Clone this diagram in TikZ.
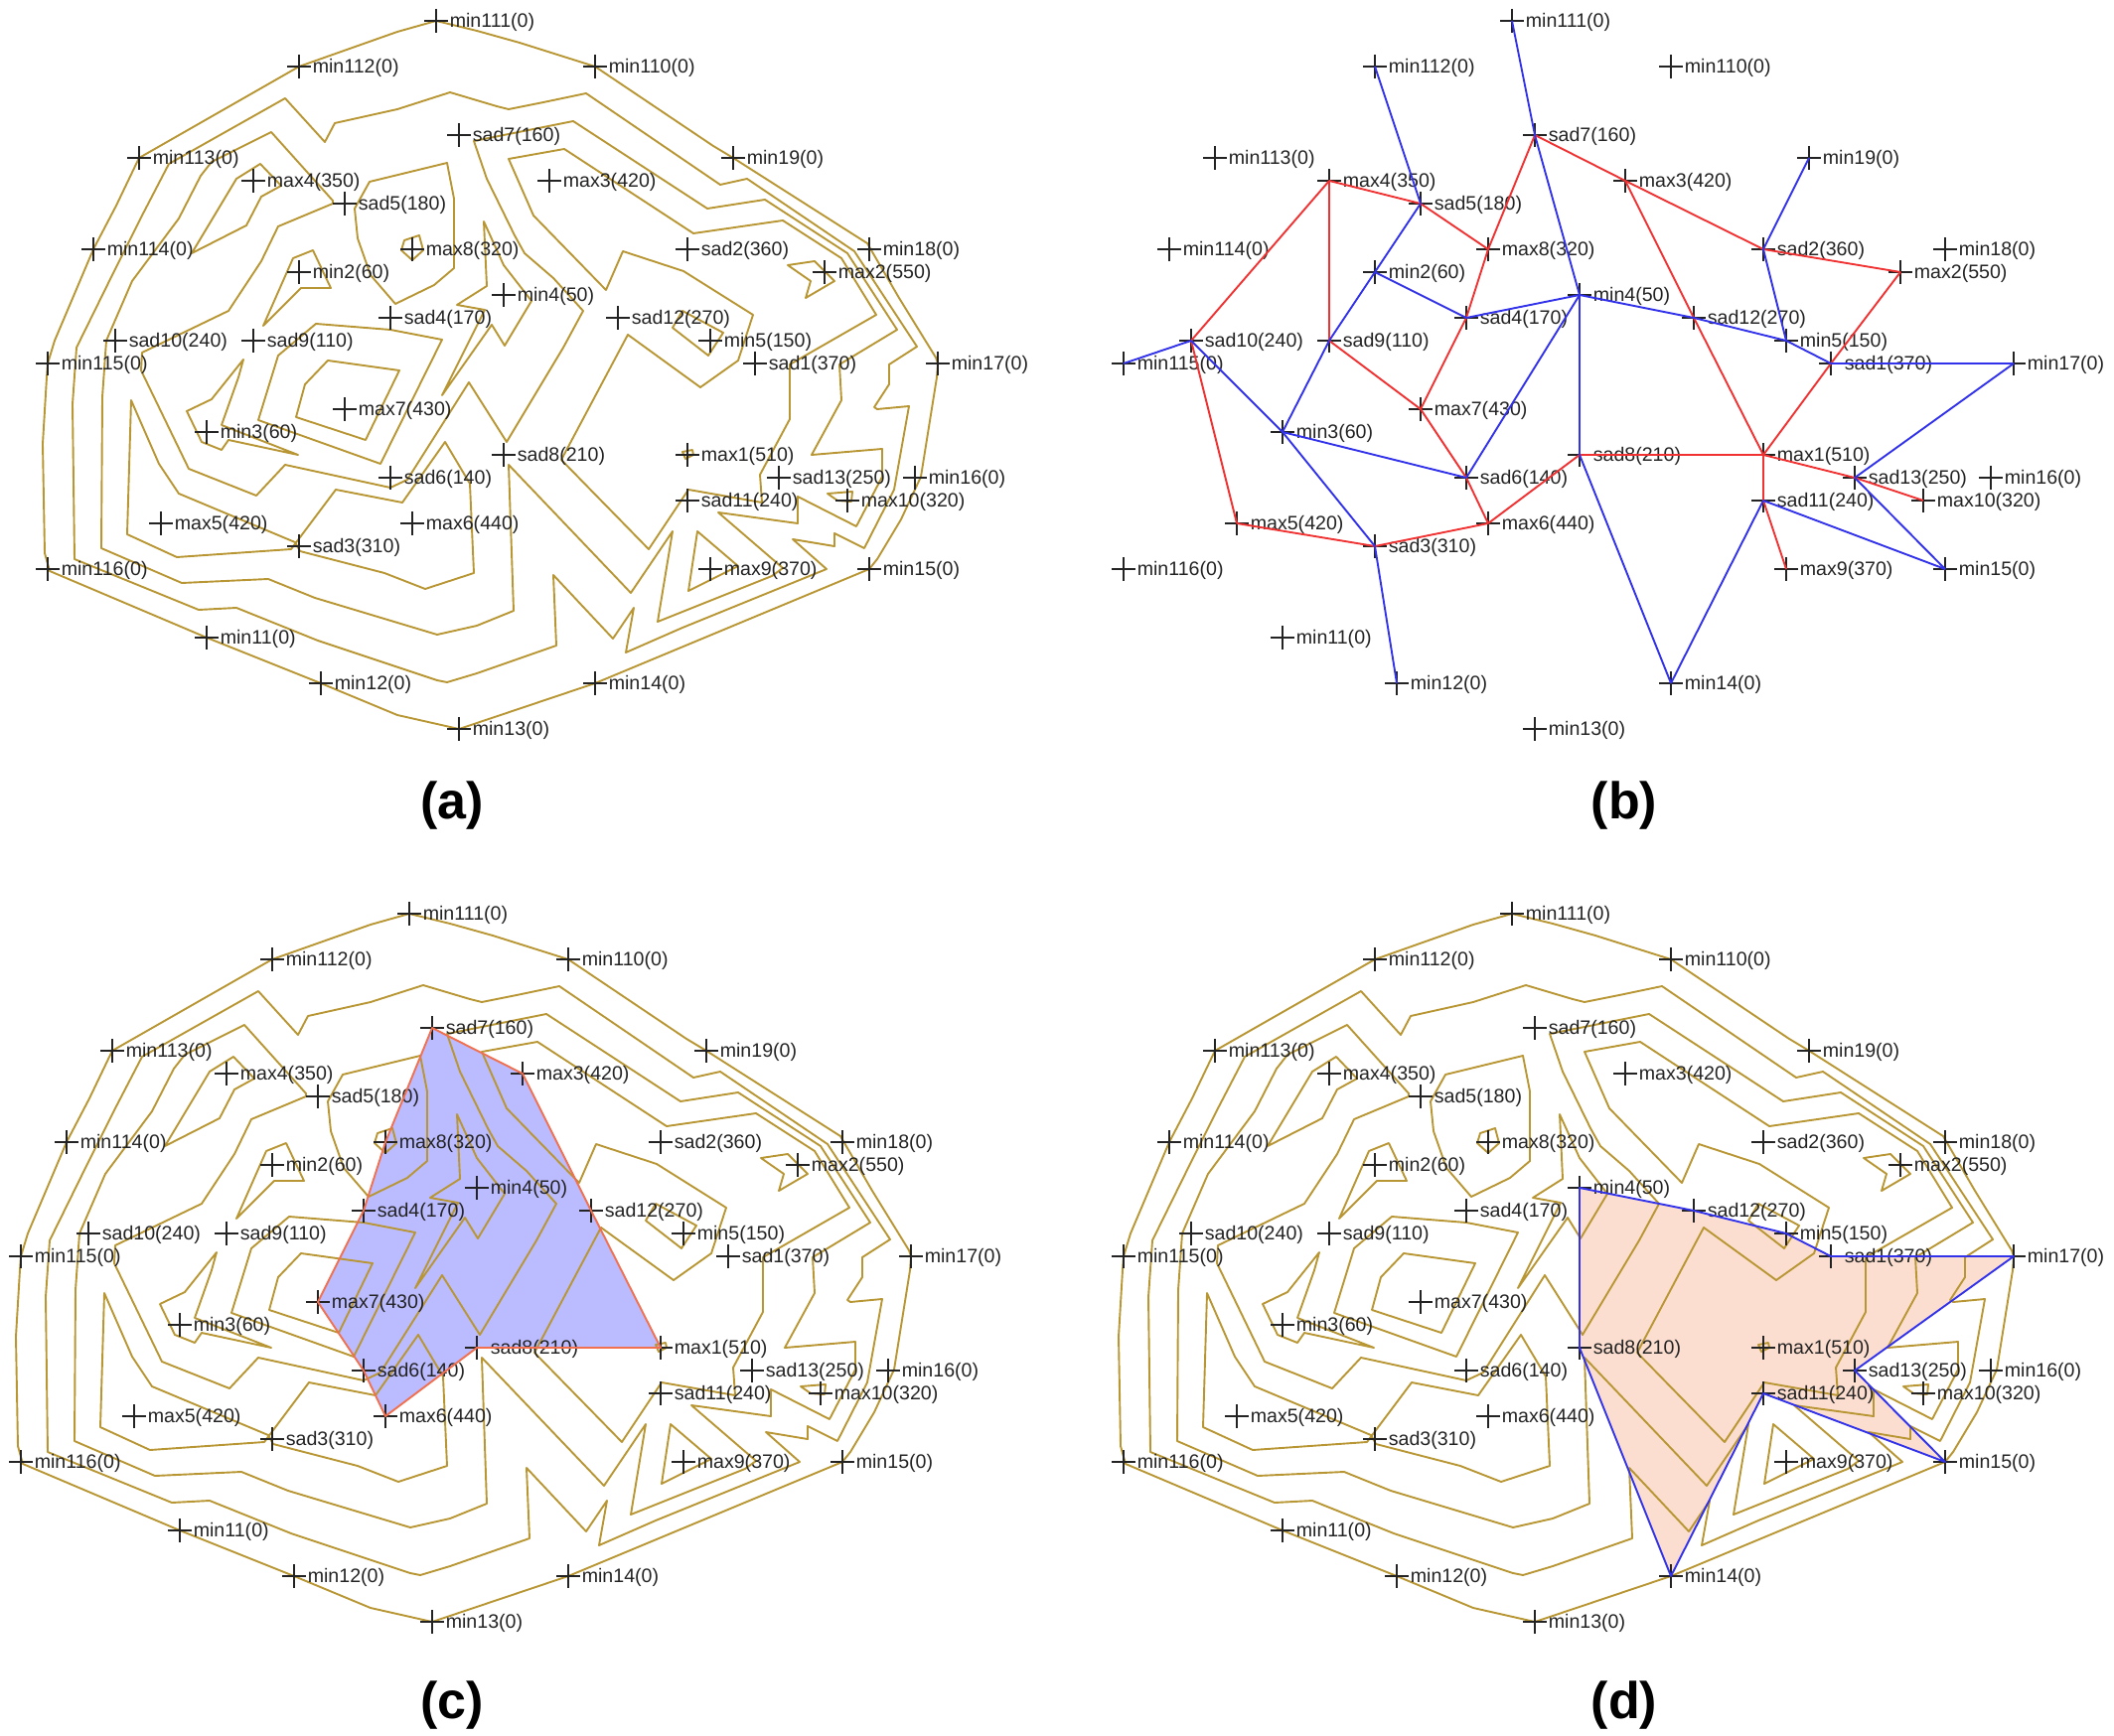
\documentclass[tikz,border=0pt]{standalone}
\usepackage{fontspec}
\setmainfont{Liberation Sans}
\usetikzlibrary{positioning}
\usetikzlibrary{backgrounds}
\definecolor{contourgold}{RGB}{184,150,52}
\definecolor{critblack}{RGB}{35,35,35}
\definecolor{edgered}{RGB}{240,50,50}
\definecolor{edgeblue}{RGB}{50,50,235}
\definecolor{fillblue}{RGB}{187,187,255}
\definecolor{fillpeach}{RGB}{251,222,207}
\definecolor{edgeorange}{RGB}{240,112,80}
\tikzset{
    contour/.style={
        draw=contourgold,
        line width=.95pt,
        line join=round},
    critmark/.style={
        inner sep=0pt,
        minimum size=12pt,
        path picture={
            \draw[critblack,line width=.65pt]
                (path picture bounding box.north) -- (path picture bounding box.south)
                (path picture bounding box.west) -- (path picture bounding box.east);}},
    critlabel/.style={
        inner sep=0pt,
        yshift=-.5pt,
        text=critblack,
        font=\fontsize{9.8}{10}\selectfont},
    redge/.style={draw=edgered,line width=.95pt},
    bedge/.style={draw=edgeblue,line width=.95pt},
    panellabel/.style={
        inner sep=0pt,
        font=\fontsize{26}{28}\selectfont\bfseries}}

\newcommand{\contourlines}{
    % outer line through the boundary minima
    \draw[contour] plot coordinates {(439,21)(480,31)(523,43)(599,67)(718,147)(738,159)(873,245)(905,300)(942,360)(944,366)(943,380)(927,480)(907,523)(883,563)(875,573)(599,688)(480,728)(462,734)(400,720)(323,688)(208,642)(50,575)(45,557)(43,447)(47,380)(48,366)(55,343)(94,251)(117,207)(140,159)(301,67)(400,32)} -- cycle;
    \draw[contour] plot coordinates {(327,143)(337,124)(400,110)(453,93)(500,107)(512,110)(547,103)(590,94)(725,186)(752,180)(860,253)(923,349)(895,367)(895,387)(880,410)(883,412)(915,409)(900,493)(870,552)(840,537)(840,550)(798,543)(832,573)(687,632)(630,657)(638,612)(617,643)(557,579)(560,650)(480,678)(450,687)(440,685)(320,645)(238,612)(200,614)(75,563)(73,407)(77,350)(113,277)(143,217)(170,165)(287,99)} -- cycle;
    \draw[contour] plot coordinates {(273,133)(335,202)(335,205)(280,228)(263,263)(230,313)(143,355)(142,373)(190,472)(258,499)(287,468)(393,491)(410,483)(472,385)(510,445)(567,350)(587,313)(557,280)(528,255)(518,237)(490,180)(477,142)(577,122)(712,210)(770,201)(853,255)(903,332)(845,367)(847,403)(817,458)(888,452)(888,480)(862,530)(803,500)(803,527)(723,516)(788,572)(777,580)(662,626)(677,535)(635,597)(512,468)(517,615)(480,630)(440,639)(317,602)(270,583)(183,587)(102,552)(103,400)(107,343)(133,283)(180,220)(202,177)(213,163)} -- cycle;
    \draw[contour] plot coordinates {(568,150)(698,235)(788,222)(847,260)(882,317)(795,367)(795,422)(765,478)(767,506)(693,493)(653,553)(565,463)(632,337)(705,390)(743,363)(758,317)(688,273)(627,253)(610,292)(537,217)(512,160)} -- cycle;
    % small closed lines
    \draw[contour] plot coordinates {(677,330)(687,313)(728,335)(713,358)} -- cycle;
    \draw[contour] plot coordinates {(793,267)(820,263)(840,283)(811,300)(816,283)} -- cycle;
    \draw[contour] plot coordinates {(702,535)(743,570)(693,595)} -- cycle;
    \draw[contour] plot coordinates {(833,497)(858,495)(857,505)(843,504)} -- cycle;
    \draw[contour] plot coordinates {(687,455)(697,453)(698,458)(690,462)} -- cycle;
    \draw[contour] plot coordinates {(193,255)(238,180)(262,165)(283,187)(263,198)(248,227)} -- cycle;
    \draw[contour] plot coordinates {(372,183)(450,164)(457,200)(457,270)(437,287)(398,306)(373,277)(360,240)(357,210)} -- cycle;
    \draw[contour] plot coordinates {(407,242)(422,237)(426,252)(415,262)(404,252)} -- cycle;
    \draw[contour] plot coordinates {(295,260)(315,252)(333,290)(303,290)(265,328)} -- cycle;
    \draw[contour] plot coordinates {(318,326)(393,332)(445,342)(383,467)(260,423)(280,358)} -- cycle;
    \draw[contour] plot coordinates {(330,363)(402,373)(368,443)(298,420)(307,387)} -- cycle;
    \draw[contour] plot coordinates {(245,362)(213,402)(188,414)(203,445)(223,453)(230,443)(300,458)(223,428)(240,380)} -- cycle;
    \draw[contour] plot coordinates {(132,403)(128,538)(178,561)(293,553)(338,493)(405,506)(448,445)(473,487)(477,577)(428,593)(387,577)(302,555)(297,546)(180,497)(160,467)} -- cycle;
    \draw[contour] plot coordinates {(487,223)(490,288)(460,307)(488,312)(445,398)(495,327)(508,348)(535,303)(507,267)} -- cycle;
}

\newcommand{\critpoints}[1]{
    \foreach \nm/\px/\py/\val in {
        min111/439/21/0,min112/301/67/0,min110/599/67/0,min113/140/159/0,min19/738/159/0,
        max4/255/182/350,max3/553/182/420,sad7/462/136/160,sad5/347/205/180,min114/94/251/0,
        max8/415/251/320,sad2/692/251/360,min18/875/251/0,min2/301/274/60,max2/830/274/550,
        min4/507/297/50,sad4/393/320/170,sad12/622/320/270,sad10/116/343/240,sad9/255/343/110,
        min5/715/343/150,min115/48/366/0,sad1/760/366/370,min17/944/366/0,max7/347/412/430,
        min3/208/435/60,sad8/507/458/210,max1/692/458/510,sad6/393/481/140,sad13/784/481/250,
        min16/921/481/0,sad11/692/504/240,max10/853/504/320,max5/162/527/420,max6/415/527/440,
        sad3/301/550/310,min116/48/573/0,max9/715/573/370,min15/875/573/0,min11/208/642/0,
        min12/323/688/0,min14/599/688/0,min13/462/734/0}
    {
        \node[critmark] (#1\nm) at (\px,\py) {};
        \node[critlabel,right=.5pt of #1\nm] (#1\nm-t) {\nm(\val)};
    }
}

\begin{document}
\begin{tikzpicture}[x=.5pt,y=-.5pt]
    \useasboundingbox (0,0) rectangle (2128,1748);

    % panel a
    \begin{scope}
        \contourlines
        \critpoints{a}
    \end{scope}
    \node[panellabel] (labela) at (455,811) {(a)};

    % panel b
    \begin{scope}[shift={(1083,0)}]
        \critpoints{b}
    \end{scope}
    \node[panellabel] (labelb) at (1635,811) {(b)};
    \foreach \u/\v in {sad7/max3,max3/sad2,sad2/max2,max2/sad1,sad1/max1,max3/sad12,sad12/max1,
        max1/sad8,sad8/max6,max6/sad6,sad6/max7,max7/sad9,max7/sad4,sad4/max8,max8/sad7,
        max8/sad5,sad5/max4,max4/sad9,max4/sad10,sad10/max5,max5/sad3,sad3/max6,
        max1/sad13,sad13/max10,max1/sad11,sad11/max9}
        \draw[redge] (b\u.center) -- (b\v.center);
    \foreach \u/\v in {min111/sad7,sad7/min4,min112/sad5,sad5/min2,min2/sad9,sad9/min3,min2/sad4,
        sad4/min4,min4/sad6,min4/sad8,min4/sad12,sad12/min5,min5/sad1,sad1/min17,min5/sad2,
        sad2/min19,sad10/min115,sad10/min3,min3/sad6,min3/sad3,sad3/min12,sad8/min14,
        sad11/min14,sad11/min15,sad13/min15,sad13/min17}
        \draw[bedge] (b\u.center) -- (b\v.center);

    % panel c
    \begin{scope}[shift={(-27,899)}]
        \contourlines
        \critpoints{c}
    \end{scope}
    \begin{scope}[on background layer]
        \fill[fillblue] (csad7.center) -- (cmax3.center) -- (csad12.center) -- (cmax1.center)
            -- (csad8.center) -- (cmax6.center) -- (csad6.center) -- (cmax7.center)
            -- (csad4.center) -- (cmax8.center) -- cycle;
    \end{scope}
    \draw[draw=edgeorange,line width=.95pt,line join=round] (csad7.center) -- (cmax3.center)
        -- (csad12.center) -- (cmax1.center) -- (csad8.center) -- (cmax6.center)
        -- (csad6.center) -- (cmax7.center) -- (csad4.center) -- (cmax8.center) -- cycle;
    \node[panellabel] (labelc) at (455,1717) {(c)};

    % panel d
    \begin{scope}[shift={(1083,899)}]
        \contourlines
        \critpoints{d}
    \end{scope}
    \begin{scope}[on background layer]
        \fill[fillpeach] (dmin4.center) -- (dsad12.center) -- (dmin5.center) -- (dsad1.center)
            -- (dmin17.center) -- (dsad13.center) -- (dmin15.center) -- (dsad11.center)
            -- (dmin14.center) -- (dsad8.center) -- cycle;
    \end{scope}
    \draw[bedge,line join=round] (dmin4.center) -- (dsad12.center) -- (dmin5.center) -- (dsad1.center)
        -- (dmin17.center) -- (dsad13.center) -- (dmin15.center) -- (dsad11.center)
        -- (dmin14.center) -- (dsad8.center) -- cycle;
    \node[panellabel] (labeld) at (1635,1717) {(d)};
\end{tikzpicture}
\end{document}
